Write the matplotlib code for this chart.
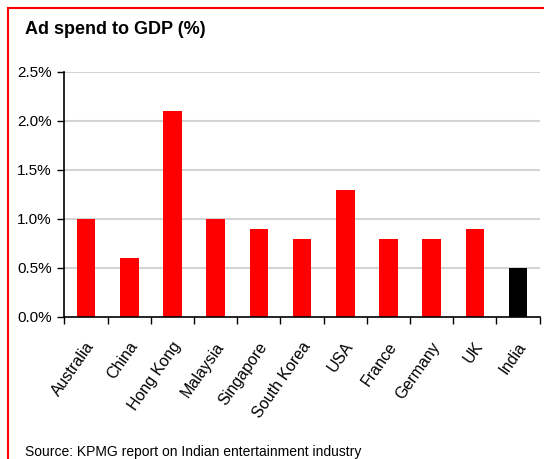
import matplotlib.pyplot as plt
from matplotlib.lines import Line2D
import matplotlib.transforms as mtransforms

countries = ["Australia", "China", "Hong Kong", "Malaysia", "Singapore", "South Korea",
             "USA", "France", "Germany", "UK", "India"]
ad_spend = [1.0, 0.6, 2.1, 1.0, 0.9, 0.8, 1.3, 0.8, 0.8, 0.9, 0.5]
y_ticks = [0.0, 0.5, 1.0, 1.5, 2.0, 2.5]

plt.rcParams["font.family"] = ["Liberation Sans", "DejaVu Sans"]

fig = plt.figure(figsize=(5.44, 4.59), dpi=100)
ax = fig.add_axes([0.1184, 0.3094, 0.8736, 0.5338])

colors = ["#ff0000"] * (len(countries) - 1) + ["#000000"]
x = list(range(len(countries)))
ax.bar(x, ad_spend, width=0.43, color=colors, zorder=3)

ax.set_xlim(-0.5, len(countries) - 0.5)
ax.set_ylim(0, 2.5)
ax.set_yticks(y_ticks)
ax.set_yticklabels([f"{v:.1f}%" for v in y_ticks], fontsize=11)
for v in y_ticks[1:]:
    ax.axhline(v, color="#d4d4d4", lw=1.5, zorder=1)

ax.set_xticks([i - 0.5 for i in range(len(countries) + 1)])
ax.set_xticklabels([])
ax.set_xticks(x, minor=True)
ax.set_xticklabels(countries, minor=True, rotation=55, ha="right",
                   rotation_mode="anchor", fontsize=11.5)
ax.tick_params(axis="x", which="minor", length=0, pad=16)
ax.tick_params(axis="x", which="major", length=5, width=1, direction="out")
ax.tick_params(axis="y", length=5, width=1, direction="out", pad=4)

offset = mtransforms.ScaledTranslation(-1 / 100, 0, fig.dpi_scale_trans)
for lab in ax.get_xticklabels(minor=True):
    lab.set_transform(lab.get_transform() + offset)

for s in ["top", "right"]:
    ax.spines[s].set_visible(False)
for s in ["left", "bottom"]:
    ax.spines[s].set_linewidth(1.2)
    ax.spines[s].set_zorder(4)

fig.text(25 / 544, 1 - 30 / 459, "Ad spend to GDP (%)", fontsize=13, fontweight="bold",
         va="center", ha="left")
fig.text(25 / 544, 1 - 452 / 459, "Source: KPMG report on Indian entertainment industry",
         fontsize=10, va="center", ha="left")

fig.add_artist(Line2D([8 / 544, 1], [1 - 8 / 459, 1 - 8 / 459], color="#ff0000", lw=1.5))
fig.add_artist(Line2D([8 / 544, 8 / 544], [0, 1 - 8 / 459], color="#ff0000", lw=1.5))

fig.savefig("out.png", dpi=100)
